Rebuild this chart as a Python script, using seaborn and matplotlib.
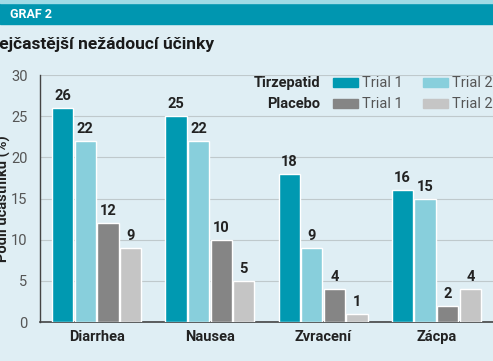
import matplotlib
matplotlib.use("Agg")
import matplotlib.pyplot as plt
import seaborn as sns
import pandas as pd
from matplotlib.patches import Rectangle

categories = ["Diarrhea", "Nausea", "Zvracení", "Zácpa"]
tirz_trial1 = [26, 25, 18, 16]
tirz_trial2 = [22, 22, 9, 15]
plac_trial1 = [12, 10, 4, 2]
plac_trial2 = [9, 5, 1, 4]
series_names = ["Tirzepatid Trial 1", "Tirzepatid Trial 2", "Placebo Trial 1", "Placebo Trial 2"]
yticks = [0, 5, 10, 15, 20, 25, 30]

BG = "#dfeef4"
HEADER = "#0096b0"
colors = ["#0099b1", "#88cfdc", "#858585", "#c5c5c5"]

rows = []
for name, vals in zip(series_names, [tirz_trial1, tirz_trial2, plac_trial1, plac_trial2]):
    for c, v in zip(categories, vals):
        rows.append({"cat": c, "series": name, "value": v})
df = pd.DataFrame(rows)

sns.set_theme(style="white")
plt.rcParams["font.family"] = ["Roboto", "DejaVu Sans"]

fig = plt.figure(figsize=(4.93, 3.61), dpi=100)
fig.patch.set_facecolor("white")
W, H = 493, 361
# background panels
fig.add_artist(Rectangle((0, 0), 1, 1 - 6 / H, transform=fig.transFigure, color=BG, zorder=0))
fig.add_artist(Rectangle((0, 1 - 24 / H), 1, 21 / H, transform=fig.transFigure, color=HEADER, zorder=1))
fig.add_artist(Rectangle((0, 1 - 3 / H), 1, 3 / H, transform=fig.transFigure, color="#9fdbe6", zorder=1))
fig.text(10 / W, 1 - 14 / H, "GRAF 2", color="white", fontsize=9, fontweight="bold", va="center", ha="left")
fig.text(-13 / W, 1 - 44 / H, "Nejčastější nežádoucí účinky", color="#1a1a1a", fontsize=12.5,
         fontweight="bold", va="center", ha="left")

ax = fig.add_axes([40 / W, 1 - 322 / H, 453 / W, 247 / H])
ax.set_facecolor(BG)
sns.barplot(data=df, x="cat", y="value", hue="series", hue_order=series_names,
            palette=colors, width=0.8, gap=0.06, saturation=1, ax=ax, legend=False, zorder=3)

for cont in ax.containers:
    for bar in cont:
        h = bar.get_height()
        ax.text(bar.get_x() + bar.get_width() / 2, h + 0.6, f"{int(h)}", ha="center", va="bottom",
                fontsize=10.5, fontweight="bold", color="#222222", zorder=4)

ax.set_ylim(0, 30)
ax.set_xlim(-0.5, 3.5)
ax.set_yticks(yticks)
ax.set_yticklabels([str(t) for t in yticks], color="#555555", fontsize=10.5)
ax.yaxis.grid(True, color="#bfc9cc", linewidth=0.8, zorder=0)
ax.set_axisbelow(True)
ax.tick_params(axis="x", length=0, pad=6, labelsize=10.5)
ax.tick_params(axis="y", length=0, pad=9)
for lbl in ax.get_xticklabels():
    lbl.set_fontweight("bold")
    lbl.set_color("#222222")
ax.set_xlabel("")
ax.set_ylabel("Podíl účastníků (%)", fontsize=10.5, fontweight="bold", color="#222222")
ax.yaxis.set_label_coords(-30 / 453, 0.5)
for s in ["top", "right"]:
    ax.spines[s].set_visible(False)
ax.spines["left"].set_color("#444444")
ax.spines["bottom"].set_color("#444444")
ax.spines["left"].set_linewidth(1.0)
ax.spines["bottom"].set_linewidth(1.2)

# legend (manual, in figure pixel coords)
def fx(px):
    return px / W
def fy(py):
    return 1 - py / H

leg_rows = [("Tirzepatid", 83, colors[0], colors[1]), ("Placebo", 104, colors[2], colors[3])]
for label, yy, c1, c2 in leg_rows:
    fig.text(fx(320), fy(yy), label, ha="right", va="center", fontsize=10.5, fontweight="bold", color="#222222")
    fig.add_artist(Rectangle((fx(333), fy(yy + 4)), 25 / W, 9 / H, transform=fig.transFigure, color=c1, zorder=5))
    fig.text(fx(362), fy(yy), "Trial 1", ha="left", va="center", fontsize=10.5, color="#555555")
    fig.add_artist(Rectangle((fx(423), fy(yy + 4)), 25 / W, 9 / H, transform=fig.transFigure, color=c2, zorder=5))
    fig.text(fx(452), fy(yy), "Trial 2", ha="left", va="center", fontsize=10.5, color="#555555")

fig.savefig("out.png", dpi=100, facecolor=fig.get_facecolor())
